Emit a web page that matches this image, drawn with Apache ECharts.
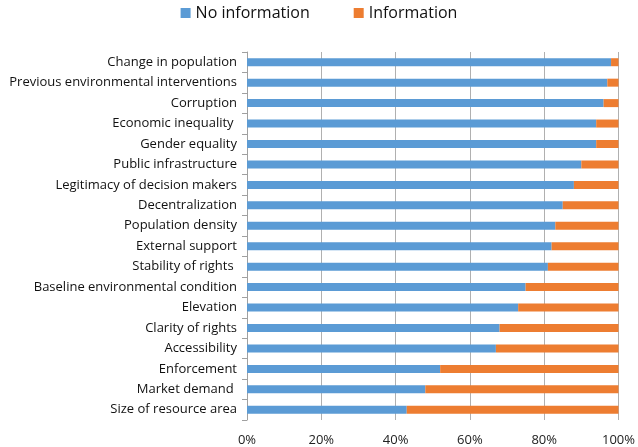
<!DOCTYPE html>
<html><head><meta charset="utf-8">
<script src="https://cdn.jsdelivr.net/npm/echarts@6/dist/echarts.min.js"></script>
<style>html,body{margin:0;padding:0;background:#fff}#c{width:638px;height:447px}</style>
</head><body><div id="c"></div>
<script>
const categories = ["Change in population","Previous environmental interventions","Corruption","Economic inequality ","Gender equality","Public infrastructure","Legitimacy of decision makers","Decentralization","Population density","External support","Stability of rights ","Baseline environmental condition","Elevation","Clarity of rights","Accessibility","Enforcement","Market demand ","Size of resource area"];
const noInformation = [98,97,96,94,94,90,88,85,83,82,81,75,73,68,67,52,48,43];
const information = [2,3,4,6,6,10,12,15,17,18,19,25,27,32,33,48,52,57];
const tickLabels = ["0%","20%","40%","60%","80%","100%"];
const chart = echarts.init(document.getElementById('c'), null, {renderer:'canvas'});
const font = "'Open Sans', sans-serif";
chart.setOption({
  animation:false,
  color:['#5B9BD5','#ED7D31'],
  legend:{top:0,left:'center',itemWidth:10,itemHeight:10,itemGap:44,icon:'rect',
    textStyle:{fontFamily:font,fontSize:16,color:'#111'},data:['No information','Information']},
  grid:{left:247,right:19,top:52,bottom:26,containLabel:false},
  xAxis:{type:'value',min:0,max:100,interval:20,
    axisLabel:{formatter:v=>tickLabels[v/20],fontFamily:font,fontSize:13,color:'#222',margin:14},
    axisLine:{show:false},axisTick:{show:false},
    splitLine:{show:true,lineStyle:{color:'#b0b0b0',width:1}}},
  yAxis:{type:'category',inverse:true,data:categories,
    axisLine:{show:true,lineStyle:{color:'#a0a0a0'}},
    axisTick:{show:true,length:5,lineStyle:{color:'#a0a0a0'}},
    axisLabel:{fontFamily:font,fontSize:13,color:'#111',margin:10}},
  series:[
    {name:'No information',type:'bar',stack:'t',data:noInformation,barWidth:8},
    {name:'Information',type:'bar',stack:'t',data:information,barWidth:8}
  ]
});
</script></body></html>
